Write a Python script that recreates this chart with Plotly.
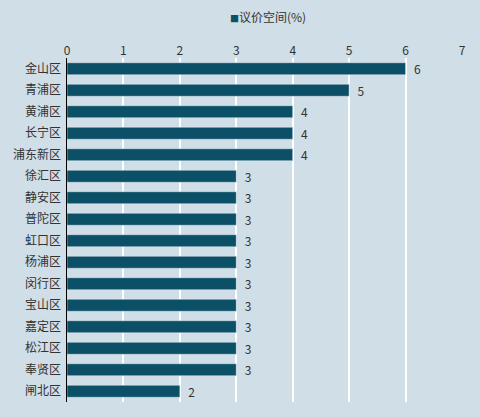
import plotly.graph_objects as go

districts = ["金山区", "青浦区", "黄浦区", "长宁区", "浦东新区", "徐汇区", "静安区", "普陀区",
             "虹口区", "杨浦区", "闵行区", "宝山区", "嘉定区", "松江区", "奉贤区", "闸北区"]
values = [6, 5, 4, 4, 4, 3, 3, 3, 3, 3, 3, 3, 3, 3, 3, 2]
series_name = "议价空间(%)"

bg = "#d0dee7"
bar_color = "#0c5068"

fig = go.Figure(go.Bar(
    x=values,
    y=districts,
    orientation="h",
    name=series_name,
    marker_color=bar_color,
    width=0.56,
    texttemplate="  %{x}",
    textposition="outside",
    constraintext="none",
    textfont=dict(size=12, color="#333333"),
    cliponaxis=False,
    showlegend=False,
))

# compact legend: small square sitting right against the label
fig.add_annotation(
    text=f"<span style='color:{bar_color};font-size:9px'>■</span>{series_name}",
    x=0.51, xref="paper", xanchor="center",
    y=1.12, yref="paper", yanchor="middle",
    showarrow=False,
    font=dict(size=12, color="#333333"),
)

fig.update_layout(
    width=480,
    height=417,
    paper_bgcolor=bg,
    plot_bgcolor=bg,
    margin=dict(l=67, r=18, t=58, b=15),
    font=dict(family="Noto Sans CJK SC, Noto Sans, sans-serif", size=12, color="#333333"),
    bargap=0.44,
)

fig.update_xaxes(
    side="top",
    range=[0, 7],
    dtick=1,
    showgrid=True,
    gridcolor="white",
    gridwidth=2,
    zeroline=False,
    showline=False,
    ticks="",
)

fig.update_yaxes(
    autorange="reversed",
    showline=True,
    linecolor="black",
    linewidth=1,
    ticks="",
    showgrid=False,
    ticksuffix=" ",
)

# drop the default page margin so the chart sits at the window's corner
fig.write_html("out.html", config={"displayModeBar": False},
               post_script="document.body.style.margin='0';")
